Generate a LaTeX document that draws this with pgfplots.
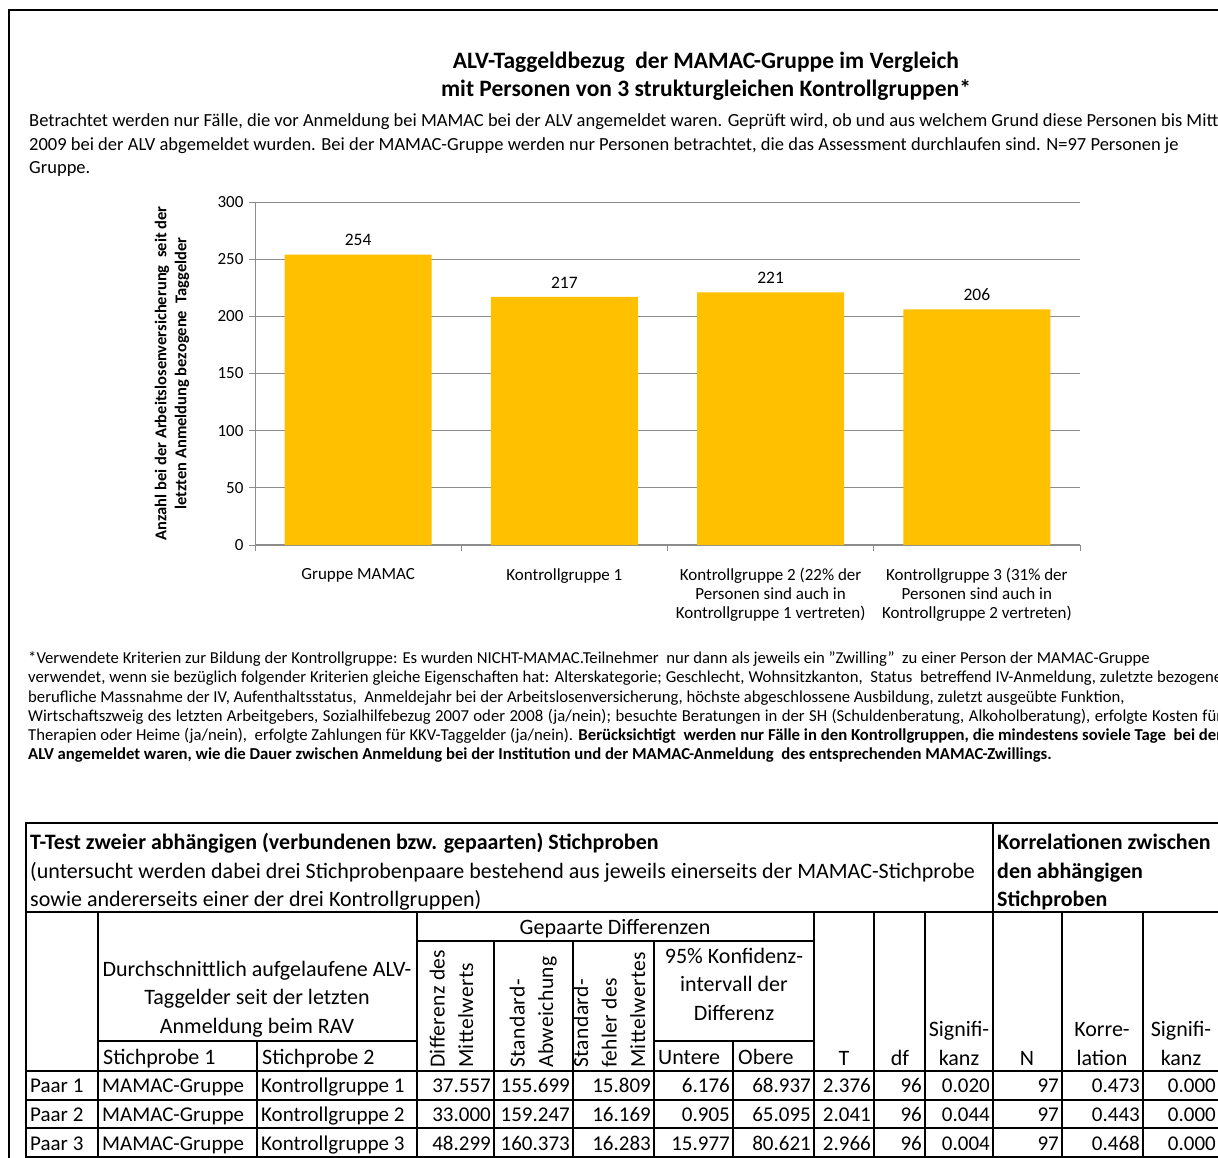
\documentclass[border=0pt]{standalone}
\usepackage{fontspec}
\setmainfont{Carlito}
\usepackage{pgfplots}
\pgfplotsset{compat=1.18}
\definecolor{bargold}{HTML}{FFC000}
\definecolor{gridgray}{HTML}{8C8C8C}
\newcommand{\fs}[2]{\fontsize{#1}{#2}\selectfont}
\begin{document}
\begin{tikzpicture}[x=1pt,y=-1pt]
\clip (0,0) rectangle (1218,1158);
\fill[white] (0,0) rectangle (1218,1158);
% outer frame
\draw[line width=2.5pt] (9,1170) -- (9,10) -- (1230,10);
% title
\node[font=\bfseries\fs{23.5}{28}, align=center, inner sep=0] at (706,76) {ALV-Taggeldbezug\ \ der MAMAC-Gruppe im Vergleich\\mit Personen von 3 strukturgleichen Kontrollgruppen*};
% intro
\tikzset{intro/.style={anchor=base west, inner sep=0, font=\fs{18.5}{23}}}
\node[intro] at (29,127) {Betrachtet werden nur Fälle, die vor Anmeldung bei MAMAC bei der ALV angemeldet waren. Geprüft wird, ob und aus welchem Grund diese Personen bis Mitte};
\node[intro] at (29,151) {2009 bei der ALV abgemeldet wurden. Bei der MAMAC-Gruppe werden nur Personen betrachtet, die das Assessment durchlaufen sind. N=97 Personen je};
\node[intro] at (29,174) {Gruppe.};
% chart
\begin{axis}[
  at={(255pt,-545pt)}, anchor=south west,
  scale only axis, width=825pt, height=343pt,
  xmin=-0.5, xmax=3.5, ymin=0, ymax=300,
  axis x line*=bottom, axis y line*=left,
  axis line style={draw=gridgray, line width=1pt},
  x axis line style={line width=2pt},
  ytick={0,50,...,300},
  xtick={-0.5,0.5,1.5,2.5,3.5},
  xticklabels={Gruppe MAMAC, Kontrollgruppe 1, {Kontrollgruppe 2 (22\% der\\Personen sind auch in\\Kontrollgruppe 1 vertreten)}, {Kontrollgruppe 3 (31\% der\\Personen sind auch in\\Kontrollgruppe 2 vertreten)}, {}},
  xticklabel style={align=center, font=\fs{17}{19}, xshift=103.125pt, anchor=north, yshift=-14pt},
  tick align=outside,
  major tick length=6pt,
  tick style={draw=gridgray, line width=1pt},
  ymajorgrids, grid style={draw=gridgray, line width=1pt},
  yticklabel style={font=\fs{17}{19}, black, xshift=-2pt},
  /pgf/number format/assume math mode=true,
  ylabel={Anzahl bei der Arbeitslosenversicherung\ \ seit der\\letzten Anmeldung bezogene\ \ Taggelder},
  ylabel style={font=\bfseries\fs{16.5}{20}, align=center, at={([xshift=-83pt]axis description cs:0,0.5)}, anchor=center},
  nodes near coords,
  nodes near coords style={font=\fs{17.5}{19}, black, anchor=south, yshift=5pt},
  clip=false
]
\addplot[ybar, bar width=147pt, fill=bargold, draw=none] coordinates {(0,254) (1,217) (2,221) (3,206)};
\end{axis}
% footnote
\tikzset{fn/.style={anchor=base west, inner sep=0, font=\fs{16.7}{19}}}
\node[fn] at (28,663) {*Verwendete Kriterien zur Bildung der Kontrollgruppe: Es wurden NICHT-MAMAC.Teilnehmer\ \ nur dann als jeweils ein "Zwilling"\ \ zu einer Person der MAMAC-Gruppe};
\node[fn] at (28,682) {\makebox[1194pt][s]{verwendet, wenn sie bezüglich folgender Kriterien gleiche Eigenschaften hat: Alterskategorie; Geschlecht, Wohnsitzkanton,\ \ Status\ \ betreffend IV-Anmeldung, zuletzte bezogene}};
\node[fn] at (28,702) {berufliche Massnahme der IV, Aufenthaltsstatus,\ \ Anmeldejahr bei der Arbeitslosenversicherung, höchste abgeschlossene Ausbildung, zuletzt ausgeübte Funktion,};
\node[fn] at (28,721) {\makebox[1194pt][s]{Wirtschaftszweig des letzten Arbeitgebers, Sozialhilfebezug 2007 oder 2008 (ja/nein); besuchte Beratungen in der SH (Schuldenberatung, Alkoholberatung), erfolgte Kosten für}};
\node[fn] at (28,740) {\makebox[1194pt][s]{Therapien oder Heime (ja/nein),\ \ erfolgte Zahlungen für KKV-Taggelder (ja/nein). \textbf{Berücksichtigt\ \ werden nur Fälle in den Kontrollgruppen, die mindestens soviele Tage\ \ bei der}}};
\node[fn, font=\bfseries\fs{16.7}{19}] at (28,759) {ALV angemeldet waren, wie die Dauer zwischen Anmeldung bei der Institution und der MAMAC-Anmeldung\ \ des entsprechenden MAMAC-Zwillings.};
% table lines
\tikzset{thk/.style={line width=2.5pt}, thn/.style={line width=1.3pt}}
\draw[thk] (26,823) -- (1230,823);
\draw[thk] (26,912) -- (1230,912);
\draw[thn] (417,941) -- (814,941);
\draw[thn] (98,1041) -- (417,1041);
\draw[thn] (654,1041) -- (814,1041);
\draw[thk] (26,1071) -- (1230,1071);
\draw[thn] (26,1100) -- (1230,1100);
\draw[thn] (26,1128) -- (1230,1128);
\draw[thn] (26,1157) -- (1230,1157);
\draw[thk] (26,822) -- (26,1160);
\draw[thk] (993,822) -- (993,1160);
\draw[thk] (98,912) -- (98,1160);
\draw[thk] (417,912) -- (417,1160);
\draw[thn] (257,1041) -- (257,1160);
\draw[thn] (494,941) -- (494,1160);
\draw[thn] (573,941) -- (573,1160);
\draw[thn] (654,941) -- (654,1160);
\draw[thn] (733,1041) -- (733,1160);
\draw[thn] (814,912) -- (814,1160);
\draw[thn] (874,912) -- (874,1160);
\draw[thn] (925,912) -- (925,1160);
\draw[thn] (1062,912) -- (1062,1160);
\draw[thn] (1143,912) -- (1143,1160);
% table text
\tikzset{tb/.style={inner sep=0, font=\fs{21}{28.5}}, th/.style={inner sep=0, font=\fs{22}{28.5}}, tbb/.style={inner sep=0, font=\bfseries\fs{22}{28.5}}}
\node[tbb, anchor=base west] at (30,849) {T-Test zweier abhängigen (verbundenen bzw. gepaarten) Stichproben};
\node[th, anchor=base west] at (30,878) {(untersucht werden dabei drei Stichprobenpaare bestehend aus jeweils einerseits der MAMAC-Stichprobe};
\node[th, anchor=base west] at (30,906) {sowie andererseits einer der drei Kontrollgruppen)};
\node[tbb, anchor=base west] at (997,849) {Korrelationen zwischen};
\node[tbb, anchor=base west] at (997,878) {den abhängigen};
\node[tbb, anchor=base west] at (997,906) {Stichproben};
\node[th, anchor=base] at (615,934) {Gepaarte Differenzen};
\node[th, anchor=base, align=center] at (257,1033) {Durchschnittlich aufgelaufene ALV-\\Taggelder seit der letzten\\Anmeldung beim RAV};
\node[th, anchor=base west] at (103,1064) {Stichprobe 1};
\node[th, anchor=base west] at (262,1064) {Stichprobe 2};
\node[th, anchor=base, align=center] at (734,1020) {95\% Konfidenz-\\intervall der\\Differenz};
\node[th, anchor=base west] at (658,1064) {Untere};
\node[th, anchor=base west] at (738,1064) {Obere};
\node[th, anchor=base] at (844,1065) {T};
\node[th, anchor=base] at (900,1065) {df};
\node[th, anchor=base, align=center] at (959,1065) {Signifi-\\kanz};
\node[th, anchor=base] at (1027,1065) {N};
\node[th, anchor=base, align=center] at (1102,1065) {Korre-\\lation};
\node[th, anchor=base, align=center] at (1181,1065) {Signifi-\\kanz};
% rotated headers
\tikzset{rot/.style={inner sep=0, font=\fs{21.5}{28.5}\addfontfeature{LetterSpace=2}, rotate=90, anchor=base west, align=left}}
\node[rot] at (473,1068) {Differenz des\\Mittelwerts};
\node[rot] at (553,1068) {Standard-\\Abweichung};
\node[rot] at (645,1068) {Standard-\\fehler des\\Mittelwertes};
% data rows
\foreach \yy/\pp/\va/\vb/\vc/\vd/\ve/\vf/\vg/\vh/\vi/\vj/\vk in {
 1092/1/37.557/155.699/15.809/6.176/68.937/2.376/96/0.020/97/0.473/0.000,
 1121/2/33.000/159.247/16.169/0.905/65.095/2.041/96/0.044/97/0.443/0.000,
 1150/3/48.299/160.373/16.283/15.977/80.621/2.966/96/0.004/97/0.468/0.000}{
  \node[tb, anchor=base west] at (30,\yy) {Paar \pp};
  \node[tb, anchor=base west] at (102,\yy) {MAMAC-Gruppe};
  \node[tb, anchor=base west] at (261,\yy) {Kontrollgruppe \pp};
  \node[tb, anchor=base east] at (491,\yy) {\va};
  \node[tb, anchor=base east] at (570,\yy) {\vb};
  \node[tb, anchor=base east] at (651,\yy) {\vc};
  \node[tb, anchor=base east] at (730,\yy) {\vd};
  \node[tb, anchor=base east] at (811,\yy) {\ve};
  \node[tb, anchor=base east] at (871,\yy) {\vf};
  \node[tb, anchor=base east] at (922,\yy) {\vg};
  \node[tb, anchor=base east] at (990,\yy) {\vh};
  \node[tb, anchor=base east] at (1059,\yy) {\vi};
  \node[tb, anchor=base east] at (1140,\yy) {\vj};
  \node[tb, anchor=base east] at (1216,\yy) {\vk};
}
\end{tikzpicture}
\end{document}
